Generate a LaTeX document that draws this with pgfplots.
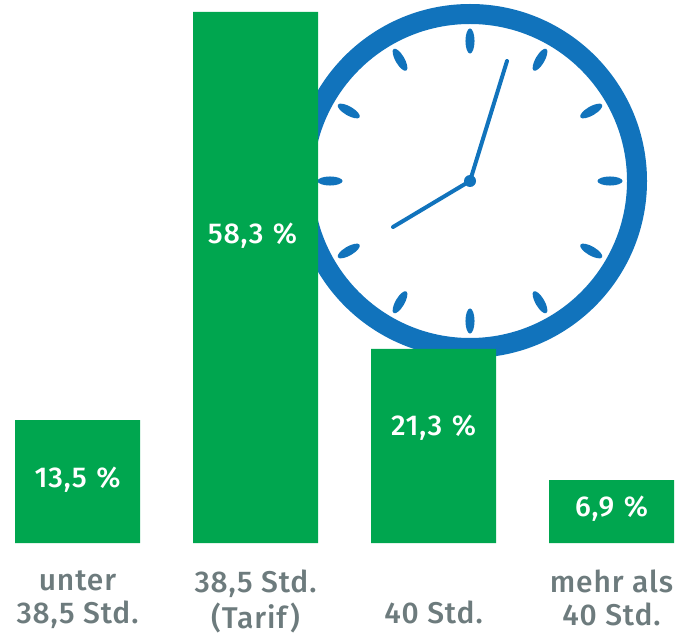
\documentclass[border=0pt]{standalone}
\usepackage{fontspec}
\setmainfont{Fira Sans}[LetterSpace=3, BoldFont={Fira Sans Medium}]
\usepackage{pgfplots}
\pgfplotsset{compat=1.18}
\definecolor{barG}{HTML}{00A64F}
\definecolor{clockB}{HTML}{1173BC}
\definecolor{labG}{HTML}{6D7B7D}

% 1 px of the reference = 0.75pt
\begin{document}
\begin{tikzpicture}[val/.style={text=white, yshift=-2pt, font=\fontsize{21.5}{24}\selectfont\bfseries}]
\useasboundingbox (0,-66.75pt) rectangle (516pt,407.25pt);

% clock behind the bars
\begin{scope}[shift={(352.5pt,271.5pt)}]
  \draw[clockB, line width=15pt] (0,0) circle[radius=125.25pt];
  \foreach \a in {0,30,...,330}
    \fill[clockB, rotate=\a] (105pt,0) ellipse[x radius=9.4pt, y radius=3.4pt];
  \draw[clockB, line width=3pt, line cap=round] (-57.75pt,-34.5pt) -- (0,0) -- (27.75pt,90pt);
  \fill[clockB] (0,0) circle[radius=4.5pt];
\end{scope}

\begin{axis}[
  at={(0,0)}, anchor=south west,
  width=516pt, height=407.25pt, scale only axis,
  xmin=-0.4354, xmax=3.4298, ymin=0, ymax=59.6,
  axis line style={draw=none}, major tick length=0pt,
  ytick=\empty,
  xtick={0,1,2,3},
  xticklabels={{\strut unter\\38,5 Std.},{\strut 38,5 Std.\\(Tarif)},{\strut\\40 Std.},{\strut mehr als\\40 Std.}},
  xticklabel style={align=center, text=labG, font=\fontsize{22.5}{22.5}\selectfont\bfseries, yshift=-16.5pt},
  clip=false,
]
\addplot[ybar, bar width=93.75pt, fill=barG, draw=none]
  coordinates {(0,13.5)(1,58.3)(2,21.3)(3,6.9)};
\node[val] at (axis cs:0,7.24) {13,5\,\,\%};
\node[val] at (axis cs:0.983,34.03) {58,3\,\,\%};
\node[val] at (axis cs:2,12.95) {21,3\,\,\%};
\node[val] at (axis cs:3,4.06) {6,9\,\,\%};
\end{axis}
\end{tikzpicture}
\end{document}
